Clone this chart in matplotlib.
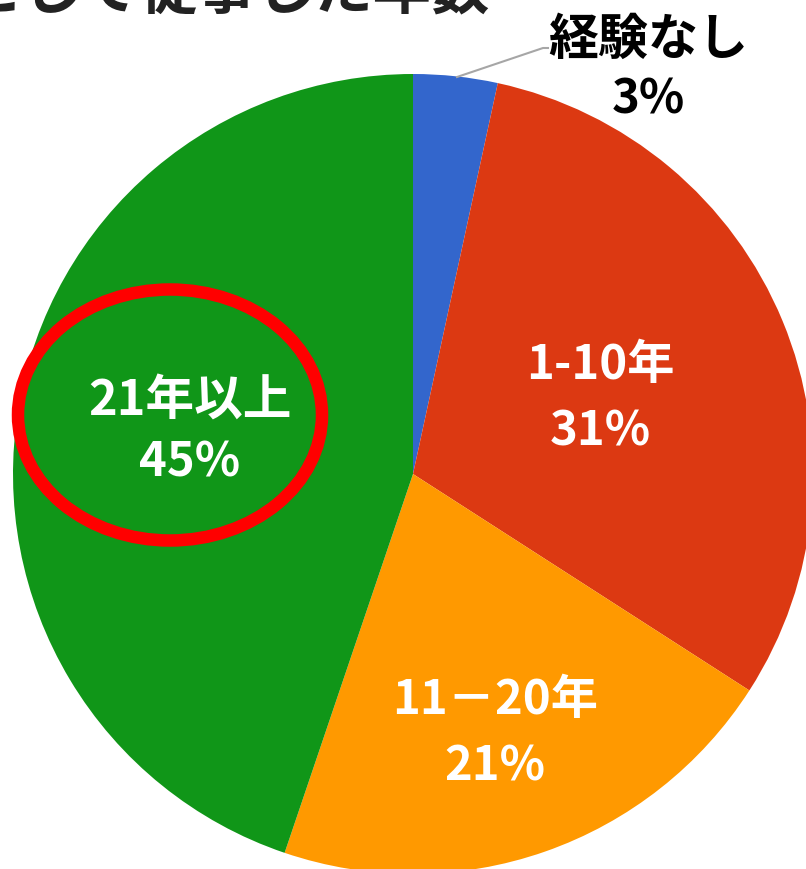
import matplotlib
matplotlib.use("Agg")
import matplotlib.pyplot as plt
from matplotlib.patches import Ellipse

plt.rcParams['font.family'] = ['Noto Sans CJK JP', 'DejaVu Sans']

categories = ["経験なし", "1-10年", "11－20年", "21年以上"]
values = [3.4, 30.7, 21.1, 44.8]
pct_labels = ["3%", "31%", "21%", "45%"]
colors = ["#3366CC", "#DC3912", "#FF9900", "#109618"]
title = "として従事した年数"

W, H = 806, 870
fig = plt.figure(figsize=(W / 100, H / 100), dpi=100)
ax = fig.add_axes([0, 0, 1, 1])

cx, cy, r = 413, H - 475, 400
ax.pie(values, colors=colors, startangle=90, counterclock=False,
       center=(cx, cy), radius=r, frame=True,
       wedgeprops=dict(linewidth=0))
ax.set_xlim(0, W)
ax.set_ylim(0, H)
ax.set_aspect('equal')
ax.axis('off')

# title (cut off at top, as in the reference)
ax.text(490, H - 8, title, ha='right', va='baseline', fontsize=42,
        fontweight='bold', color='#222222')

# labels
fs = 34
ax.text(648, H - 40, categories[0], ha='center', va='center', fontsize=36,
        fontweight='bold', color='black')
ax.text(648, H - 100, pct_labels[0], ha='center', va='center', fontsize=fs,
        fontweight='bold', color='black')
ax.plot([457, 543, 548], [H - 78, H - 49, H - 49], color='#A6A6A6', lw=1.5)

ax.text(600, H - 365, categories[1], ha='center', va='center', fontsize=fs,
        fontweight='bold', color='white')
ax.text(600, H - 432, pct_labels[1], ha='center', va='center', fontsize=fs,
        fontweight='bold', color='white')
ax.text(495, H - 700, categories[2], ha='center', va='center', fontsize=fs,
        fontweight='bold', color='white')
ax.text(495, H - 767, pct_labels[2], ha='center', va='center', fontsize=fs,
        fontweight='bold', color='white')
ax.text(190, H - 400, categories[3], ha='center', va='center', fontsize=35,
        fontweight='bold', color='white')
ax.text(190, H - 463, pct_labels[3], ha='center', va='center', fontsize=fs,
        fontweight='bold', color='white')

ax.add_patch(Ellipse((170, H - 416), 304, 251, fill=False,
                     edgecolor='#FF0000', lw=9))

fig.savefig("out.png", dpi=100)
